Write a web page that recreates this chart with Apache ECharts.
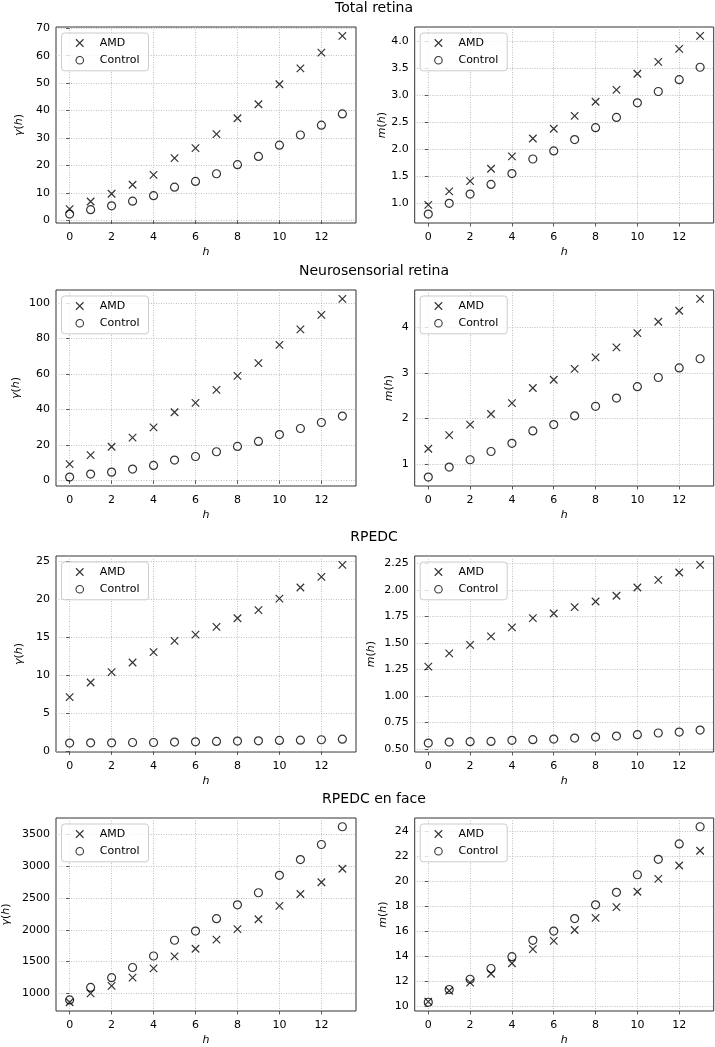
<!DOCTYPE html>
<html>
<head>
<meta charset="utf-8">
<script src="https://cdn.jsdelivr.net/npm/echarts@6/dist/echarts.min.js"></script>
<style>
html,body{margin:0;padding:0;background:#fff;}
#chart{width:715px;height:1047px;}
</style>
</head>
<body>
<div id="chart"></div>
<script>
// ---------- data ----------
const h = [0,1,2,3,4,5,6,7,8,9,10,11,12,13];
const hTicks = [0,2,4,6,8,10,12];

const titles = ['Total retina','Neurosensorial retina','RPEDC','RPEDC en face'];
const seriesNames = ['AMD','Control'];

const totalGammaAMD     = [4.1,6.9,9.7,13.0,16.6,22.7,26.3,31.4,37.2,42.3,49.6,55.4,61.1,67.2];
const totalGammaControl = [2.3,3.9,5.3,7.0,9.0,12.1,14.2,17.0,20.3,23.3,27.4,31.1,34.7,38.8];
const totalMAMD         = [0.97,1.22,1.41,1.64,1.87,2.20,2.38,2.62,2.88,3.10,3.40,3.62,3.86,4.10];
const totalMControl     = [0.80,1.00,1.17,1.35,1.55,1.82,1.97,2.18,2.40,2.59,2.86,3.07,3.29,3.52];

const neuroGammaAMD     = [9.2,14.3,19.0,24.2,29.9,38.5,43.8,51.1,59.0,66.2,76.5,85.2,93.4,102.4];
const neuroGammaControl = [1.9,3.6,4.7,6.4,8.5,11.5,13.5,16.2,19.2,22.0,25.9,29.3,32.7,36.3];
const neuroMAMD         = [1.34,1.64,1.87,2.10,2.34,2.67,2.85,3.09,3.34,3.56,3.87,4.12,4.36,4.62];
const neuroMControl     = [0.72,0.94,1.10,1.28,1.46,1.73,1.87,2.06,2.27,2.45,2.70,2.90,3.11,3.31];

const rpedcGammaAMD     = [7.15,9.08,10.44,11.71,13.07,14.56,15.39,16.4,17.54,18.6,20.13,21.58,22.98,24.56];
const rpedcGammaControl = [1.10,1.14,1.14,1.18,1.18,1.23,1.27,1.32,1.36,1.40,1.45,1.49,1.54,1.62];
const rpedcMAMD         = [1.278,1.403,1.482,1.563,1.648,1.735,1.779,1.839,1.892,1.946,2.024,2.096,2.165,2.237];
const rpedcMControl     = [0.556,0.566,0.569,0.572,0.582,0.588,0.594,0.603,0.613,0.622,0.635,0.651,0.660,0.679];

const enfaceGammaAMD     = [861,1000,1119,1247,1392,1582,1701,1845,2010,2165,2376,2562,2747,2959];
const enfaceGammaControl = [897,1093,1247,1407,1588,1835,1979,2175,2392,2582,2856,3103,3340,3619];
const enfaceMAMD         = [10.34,11.21,11.86,12.57,13.41,14.54,15.2,16.07,17.04,17.91,19.14,20.17,21.24,22.42];
const enfaceMControl     = [10.29,11.31,12.13,12.99,13.94,15.25,15.99,16.99,18.09,19.09,20.50,21.73,22.97,24.34];

const totalGammaTicks  = [0,10,20,30,40,50,60,70];
const totalMTicks      = [1.0,1.5,2.0,2.5,3.0,3.5,4.0];
const neuroGammaTicks  = [0,20,40,60,80,100];
const neuroMTicks      = [1,2,3,4];
const rpedcGammaTicks  = [0,5,10,15,20,25];
const rpedcMTicks      = [0.50,0.75,1.00,1.25,1.50,1.75,2.00,2.25];
const enfaceGammaTicks = [1000,1500,2000,2500,3000,3500];
const enfaceMTicks     = [10,12,14,16,18,20,22,24];

// panels: [amd, control, ticks, decimals, yName]
const panels = [
  [totalGammaAMD, totalGammaControl, totalGammaTicks, 0, 'g'],
  [totalMAMD, totalMControl, totalMTicks, 1, 'm'],
  [neuroGammaAMD, neuroGammaControl, neuroGammaTicks, 0, 'g'],
  [neuroMAMD, neuroMControl, neuroMTicks, 0, 'm'],
  [rpedcGammaAMD, rpedcGammaControl, rpedcGammaTicks, 0, 'g'],
  [rpedcMAMD, rpedcMControl, rpedcMTicks, 2, 'm'],
  [enfaceGammaAMD, enfaceGammaControl, enfaceGammaTicks, 0, 'g'],
  [enfaceMAMD, enfaceMControl, enfaceMTicks, 0, 'm']
];

// ---------- layout ----------
const rowTops = [27, 290, 556, 818];
const rowH = 196;
const colLefts = [56, 414.7];
const colW = [300, 299];
const titleMids = [8, 271, 537, 799];
const yNameGaps = [31, 25, 34, 20, 31, 38, 44, 26];
const FONT = 'DejaVu Sans';
const xMarker = 'path://M0,0L10,10M10,0L0,10';

const option = {
  animation: false,
  backgroundColor: '#fff',
  graphic: titles.map((t, i) => ({
    type: 'text', x: 374, y: titleMids[i],
    style: {text: t, fontFamily: FONT, fontSize: 14, fill: '#000', textAlign: 'center', textVerticalAlign: 'middle'}
  })),
  grid: [], xAxis: [], yAxis: [], series: [], legend: []
};

panels.forEach((p, k) => {
  const row = Math.floor(k / 2), col = k % 2;
  const [amd, ctl, ticks, dec, kind] = p;
  const all = amd.concat(ctl);
  const lo = Math.min(...all), hi = Math.max(...all);
  const pad = (hi - lo) * 0.05;
  const top = rowTops[row], left = colLefts[col];
  option.grid.push({
    left: left, top: top, width: colW[col], height: rowH,
    show: true, borderColor: '#333', borderWidth: 1, backgroundColor: 'transparent'
  });
  option.xAxis.push({
    gridIndex: k, type: 'value', min: -0.65, max: 13.65,
    name: 'h', nameLocation: 'middle', nameGap: 24,
    nameTextStyle: {fontFamily: FONT, fontSize: 11, fontStyle: 'italic', color: '#000'},
    axisLine: {show: false},
    axisTick: {show: true, inside: false, length: 3.5, lineStyle: {color: '#333', width: 0.8}, customValues: hTicks},
    axisLabel: {show: true, margin: 9, fontFamily: FONT, fontSize: 11, color: '#000', customValues: hTicks},
    splitLine: {show: true, lineStyle: {color: '#b0b0b0', type: [1, 1.5], width: 0.8}}
  });
  const name = kind === 'g' ? '{i|γ}({i|h})' : '{i|m}({i|h})';
  option.yAxis.push({
    gridIndex: k, type: 'value', min: lo - pad, max: hi + pad,
    name: name, nameLocation: 'middle', nameGap: yNameGaps[k], nameRotate: 90,
    nameTextStyle: {fontFamily: FONT, fontSize: 11, color: '#000',
      rich: {i: {fontFamily: FONT, fontSize: 11, fontStyle: 'italic', color: '#000'}}},
    axisLine: {show: false},
    axisTick: {show: true, inside: false, length: 3.5, lineStyle: {color: '#333', width: 0.8}, customValues: ticks},
    axisLabel: {show: true, margin: 6, fontFamily: FONT, fontSize: 11, color: '#000', customValues: ticks,
      formatter: v => Number(v).toFixed(dec)},
    splitLine: {show: true, lineStyle: {color: '#b0b0b0', type: [1, 1.5], width: 0.8}}
  });
  option.series.push({
    name: seriesNames[0], type: 'scatter', xAxisIndex: k, yAxisIndex: k,
    symbol: xMarker, symbolSize: 7.5,
    itemStyle: {color: 'none', borderColor: '#000', borderWidth: 1.2},
    data: h.map((x, i) => [x, amd[i]])
  });
  option.series.push({
    name: seriesNames[1], type: 'scatter', xAxisIndex: k, yAxisIndex: k,
    symbol: 'circle', symbolSize: 8,
    itemStyle: {color: 'none', borderColor: '#000', borderWidth: 1.2},
    data: h.map((x, i) => [x, ctl[i]])
  });
  option.legend.push({
    left: left + 5.5, top: top + 6, orient: 'vertical',
    itemWidth: 30, itemHeight: 7.5, itemGap: 4.3,
    padding: [3.5, 9, 4, 12],
    backgroundColor: 'rgba(255,255,255,0.8)', borderColor: '#ccc', borderWidth: 1, borderRadius: 3,
    itemStyle: {borderWidth: 1.1},
    textStyle: {fontFamily: FONT, fontSize: 11, color: '#000', lineHeight: 13},
    selectedMode: false,
    data: seriesNames
  });
});

const chart = echarts.init(document.getElementById('chart'), null, {renderer: 'canvas'});
chart.setOption(option);
</script>
</body>
</html>
